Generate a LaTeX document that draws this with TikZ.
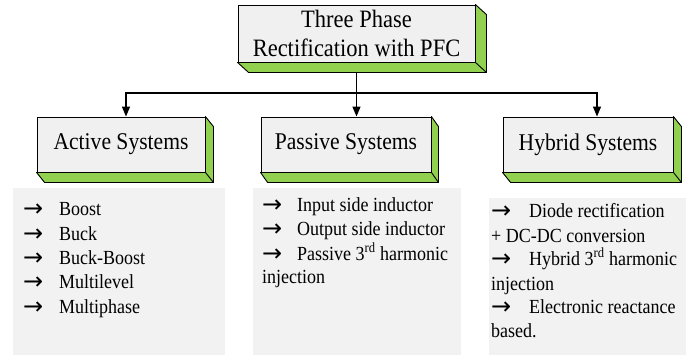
\documentclass[tikz,border=0pt]{standalone}
\usepackage{fontspec}
\setmainfont{Liberation Serif}[FakeStretch=0.9]
\newfontfamily\arrowfont{DejaVu Sans}
\usetikzlibrary{arrows.meta,calc,backgrounds}

\definecolor{facegray}{HTML}{F0F0F0}
\definecolor{panelgray}{HTML}{F2F2F2}
\definecolor{sidegreen}{HTML}{92D050}

\tikzset{
  box/.style={draw=black, line width=0.9pt, fill=facegray, inner sep=0pt,
    minimum height=55pt, font=\fontsize{24}{28}\selectfont},
  panel/.style={fill=panelgray, draw=none, inner sep=0pt},
  item/.style={anchor=base west, inner sep=0pt, font=\fontsize{20}{24}\selectfont},
  conn/.style={line width=1.3pt, -{Triangle[width=8pt,length=10pt]}},
  bevel/.style={fill=sidegreen, draw=black, line width=0.9pt, line join=round}
}

% bullet arrow set in a fixed-width slot
\newcommand{\bul}[1]{\makebox[#1][l]{\raisebox{-1pt}{\arrowfont\fontsize{24}{24}\selectfont →}}}

% raised 3-D block: green faces below and to the right of a node
\newcommand{\bevelbox}[3]{%
  \draw[bevel] (#1.north east) -- ++(#2,#3) -- ($(#1.south east)+(#2,#3)$)
    -- ($(#1.south west)+(#2,#3)$) -- (#1.south west) -- (#1.south east) -- cycle;
  \draw[black, line width=0.9pt] (#1.south east) -- ++(#2,#3);
}

\begin{document}
\begin{tikzpicture}[x=1pt,y=-1pt]
\useasboundingbox (0,0) rectangle (696,356);

% headings
\node[box, minimum width=237pt, minimum height=57pt, align=center,
      font=\fontsize{25}{29}\selectfont] (top) at (356.5,33.5)
      {Three Phase\\Rectification with PFC};
\node[box, minimum width=168pt] (act) at (121,144.5) {Active Systems};
\node[box, minimum width=170pt] (pas) at (346,144.5) {Passive Systems};
\node[box, minimum width=170pt] (hyb) at (588,144.5) {Hybrid Systems};

\bevelbox{top}{11}{10}
\bevelbox{act}{8}{10}
\bevelbox{pas}{7}{10}
\bevelbox{hyb}{8}{10}

% connectors
\coordinate (j) at (356.5,93);
\begin{scope}[on background layer]
  \draw[line width=1.3pt] (top.south) -- (j);
  \draw[conn] (j) -- (j |- pas.north);
  \draw[conn] (j) -| ([xshift=5pt]act.north);
  \draw[conn] (j) -| ([xshift=9pt]hyb.north);
\end{scope}

% list panels
\node[panel, minimum width=212pt, minimum height=167pt] (pa) at (119,271.5) {};
\node[panel, minimum width=208pt, minimum height=167pt] (pp) at (357,271.5) {};
\node[panel, minimum width=197pt, minimum height=157pt] (ph) at (587.5,276.5) {};

% active systems list
\node[item] (a1) at (23,215) {\bul{36pt}Boost};
\node[item] (a2) at (23,240) {\bul{36pt}Buck};
\node[item] (a3) at (23,264) {\bul{36pt}Buck-Boost};
\node[item] (a4) at (23,288) {\bul{36pt}Multilevel};
\node[item] (a5) at (23,313) {\bul{36pt}Multiphase};

% passive systems list
\node[item] (p1) at (262,211) {\bul{35pt}Input side inductor};
\node[item] (p2) at (262,235) {\bul{35pt}Output side inductor};
\node[item] (p3) at (262,260) {\bul{35pt}Passive 3\textsuperscript{rd} harmonic};
\node[item] (p4) at (262,283) {injection};

% hybrid systems list
\node[item] (h1) at (491,217) {\bul{38pt}Diode rectification};
\node[item] (h2) at (491,242) {+ DC-DC conversion};
\node[item] (h3) at (491,265) {\bul{38pt}Hybrid 3\textsuperscript{rd} harmonic};
\node[item] (h4) at (491,290) {injection};
\node[item] (h5) at (491,313) {\bul{38pt}Electronic reactance};
\node[item] (h6) at (491,337) {based.};
\end{tikzpicture}
\end{document}
